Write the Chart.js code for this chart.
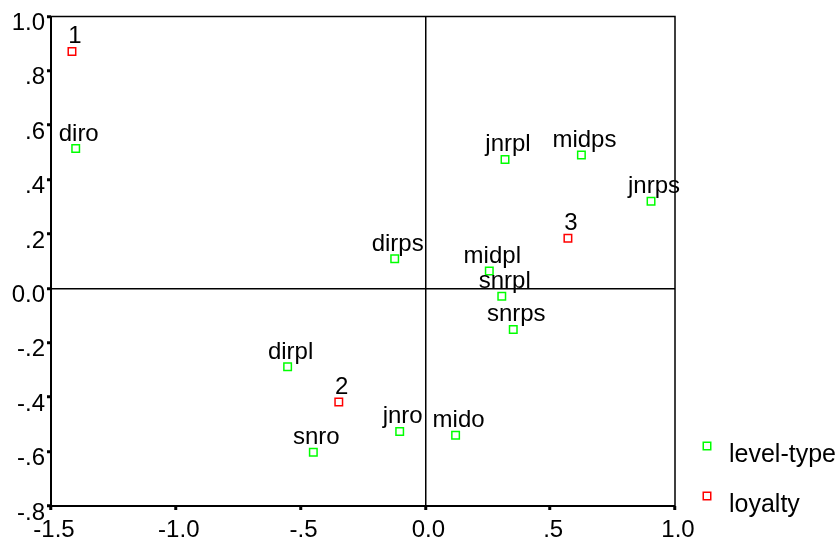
<!DOCTYPE html>
<html>
<head>
<meta charset="utf-8">
<script src="https://cdn.jsdelivr.net/npm/chart.js@4/dist/chart.umd.min.js"></script>
<style>
  html, body { margin: 0; padding: 0; background: #fff; }
  #wrap { position: relative; width: 837px; height: 544px; }
</style>
</head>
<body>
<div id="wrap"><canvas id="c" width="837" height="544"></canvas></div>
<script>
// ---- data ----
const levelTypeLabels = ['diro', 'jnrpl', 'midps', 'jnrps', 'midpl', 'dirps', 'snrpl', 'snrps', 'dirpl', 'jnro', 'mido', 'snro'];
const levelTypeX = [-1.401, 0.319, 0.625, 0.904, 0.256, -0.123, 0.306, 0.352, -0.552, -0.103, 0.121, -0.449];
const levelTypeY = [0.514, 0.474, 0.490, 0.320, 0.064, 0.109, -0.029, -0.151, -0.288, -0.526, -0.540, -0.602];

const loyaltyLabels = ['1', '2', '3'];
const loyaltyX = [-1.416, -0.347, 0.571];
const loyaltyY = [0.871, -0.418, 0.184];

const seriesNames = ['level-type', 'loyalty'];
const xTickLabels = ['-1.5', '-1.0', '-.5', '0.0', '.5', '1.0'];
const yTickLabels = ['-.8', '-.6', '-.4', '-.2', '0.0', '.2', '.4', '.6', '.8', '1.0'];

const FONT = '"Liberation Sans", Arial, sans-serif';
const GREEN = '#00ff00';
const RED = '#ff0000';

function toPoints(xs, ys) { return xs.map((x, i) => ({ x: x, y: ys[i] })); }

const pointLabelsPlugin = {
  id: 'pointLabels',
  afterDatasetsDraw(chart) {
    const ctx = chart.ctx;
    ctx.save();
    ctx.font = '24px ' + FONT;
    ctx.fillStyle = '#000';
    ctx.textAlign = 'center';
    ctx.textBaseline = 'alphabetic';
    chart.data.datasets.forEach((ds, di) => {
      const meta = chart.getDatasetMeta(di);
      meta.data.forEach((el, i) => {
        ctx.fillText(ds.pointLabels[i], el.x + 3, el.y - 8);
      });
    });
    ctx.restore();
  }
};

const framePlugin = {
  id: 'frame',
  beforeDatasetsDraw(chart) {
    const a = chart.chartArea;
    const ctx = chart.ctx;
    ctx.save();
    ctx.strokeStyle = '#000';
    ctx.lineWidth = 1.5;
    ctx.beginPath();
    ctx.moveTo(a.left, a.top);
    ctx.lineTo(a.right, a.top);
    ctx.lineTo(a.right, a.bottom);
    ctx.stroke();
    ctx.lineWidth = 2;
    ctx.beginPath();
    ctx.moveTo(a.right, a.bottom);
    ctx.lineTo(a.left, a.bottom);
    ctx.lineTo(a.left, a.top);
    ctx.stroke();
    ctx.restore();
  }
};

const legendPlugin = {
  id: 'customLegend',
  afterDraw(chart) {
    const ctx = chart.ctx;
    ctx.save();
    const items = [
      { name: seriesNames[0], color: GREEN, y: 446 },
      { name: seriesNames[1], color: RED, y: 496 }
    ];
    ctx.font = '25px ' + FONT;
    ctx.textAlign = 'left';
    ctx.textBaseline = 'alphabetic';
    items.forEach(it => {
      ctx.strokeStyle = it.color;
      ctx.lineWidth = 1.5;
      ctx.strokeRect(707 - 3.75, it.y - 3.75, 7.5, 7.5);
      ctx.fillStyle = '#000';
      ctx.fillText(it.name, 729, it.y + 16);
    });
    ctx.restore();
  }
};

function isZero(v) { return Math.abs(v) < 1e-9; }

new Chart(document.getElementById('c'), {
  type: 'scatter',
  data: {
    datasets: [
      {
        label: seriesNames[0],
        data: toPoints(levelTypeX, levelTypeY),
        pointLabels: levelTypeLabels,
        pointStyle: 'rect',
        radius: 5.3,
        borderWidth: 1.5,
        borderColor: GREEN,
        backgroundColor: 'rgba(255,255,255,0)'
      },
      {
        label: seriesNames[1],
        data: toPoints(loyaltyX, loyaltyY),
        pointLabels: loyaltyLabels,
        pointStyle: 'rect',
        radius: 5.3,
        borderWidth: 1.5,
        borderColor: RED,
        backgroundColor: 'rgba(255,255,255,0)'
      }
    ]
  },
  options: {
    responsive: false,
    animation: false,
    devicePixelRatio: 1,
    layout: { padding: { top: 16, right: 162, left: 0, bottom: 0 } },
    plugins: {
      legend: { display: false },
      tooltip: { enabled: false }
    },
    scales: {
      x: {
        type: 'linear',
        min: -1.5,
        max: 1.0,
        afterFit(s) { s.height = 38; },
        border: { display: false },
        grid: {
          color: c => (c.tick && isZero(c.tick.value)) ? '#000' : 'rgba(0,0,0,0)',
          lineWidth: 1.5,
          tickColor: '#000',
          tickLength: 4,
          tickWidth: 3,
          drawTicks: true
        },
        ticks: {
          stepSize: 0.5,
          autoSkip: false,
          maxRotation: 0,
          padding: 6,
          labelOffset: 3,
          color: '#000',
          font: { family: FONT, size: 24 },
          callback: (v, i) => xTickLabels[i]
        }
      },
      y: {
        type: 'linear',
        min: -0.8,
        max: 1.0,
        afterFit(s) { s.width = 51; },
        border: { display: false },
        grid: {
          color: c => (c.tick && isZero(c.tick.value)) ? '#000' : 'rgba(0,0,0,0)',
          lineWidth: 1.5,
          tickColor: '#000',
          tickLength: 4,
          tickWidth: 3,
          drawTicks: true
        },
        ticks: {
          stepSize: 0.2,
          autoSkip: false,
          padding: 2,
          labelOffset: 7,
          color: '#000',
          font: { family: FONT, size: 24 },
          callback: (v, i) => yTickLabels[i]
        }
      }
    }
  },
  plugins: [framePlugin, pointLabelsPlugin, legendPlugin]
});
</script>
</body>
</html>
